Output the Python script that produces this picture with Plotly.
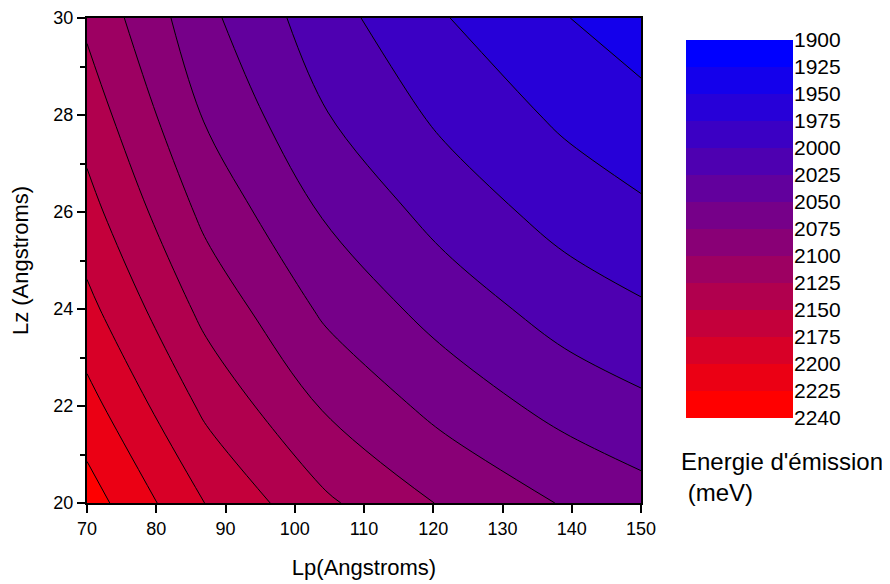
import plotly.graph_objects as go

# ---- data ----
LP = [70, 87.25, 104.5, 121.75, 139, 150]          # Lp (Angstroms)
LZ = [20, 22, 24, 26, 28, 30]                      # Lz (Angstroms)
E = [                                              # emission energy (meV), rows = LZ, cols = LP
    [2237, 2174, 2129, 2097, 2073, 2060],
    [2209, 2144, 2097, 2066, 2041, 2030],
    [2182, 2117, 2070, 2039, 2014, 2003],
    [2159, 2093, 2047, 2015, 1990, 1979],
    [2139, 2072, 2026, 1994, 1970, 1958],
    [2120, 2056, 2010, 1976, 1951, 1937],
]
LEVEL_START, LEVEL_END, LEVEL_STEP = 1925, 2225, 25
CB_EDGES = [2240, 2225, 2200, 2175, 2150, 2125, 2100, 2075, 2050,
            2025, 2000, 1975, 1950, 1925, 1900]     # colour-bar labels, bottom to top
X_TICKS = [70, 80, 90, 100, 110, 120, 130, 140, 150]
Y_TICKS = [20, 22, 24, 26, 28, 30]

RED = "rgb(255,0,0)"
BLUE = "rgb(0,0,255)"
FONT = "Liberation Sans, Arial, sans-serif"

fig = go.Figure()

fig.add_trace(go.Contour(
    x=LP, y=LZ, z=E,
    autocontour=False,
    contours=dict(start=LEVEL_START, end=LEVEL_END, size=LEVEL_STEP,
                  coloring="fill", showlines=True),
    line=dict(color="black", width=1),
    colorscale=[[0, BLUE], [1, RED]],
    showscale=False,
    hoverinfo="skip",
))

# custom colour bar: equal-height bands, labels on band boundaries
n_bands = len(CB_EDGES) - 1
fig.add_trace(go.Heatmap(
    x=[0], y=list(range(n_bands)),
    z=[[i] for i in range(n_bands)],
    zmin=0, zmax=n_bands - 1,
    colorscale=[[0, RED], [1, BLUE]],
    showscale=False, xaxis="x2", yaxis="y2", hoverinfo="skip",
))

W, H = 890, 584
OFF = 8                       # page body margin of the html page
ML, MT = 87 - OFF, 18 - OFF
PW, PH = 713, 485
MR, MB = W - ML - PW, H - MT - PH

def px_x(p):                  # page pixel -> paper fraction
    return (p - OFF - ML) / PW

def px_y(p):
    return (MT + PH - (p - OFF)) / PH

axis_common = dict(showgrid=False, zeroline=False, linecolor="black", linewidth=2,
                   mirror=True, ticks="outside", tickcolor="black", tickwidth=1.5,
                   ticklen=8, automargin=False,
                   tickfont=dict(family=FONT, size=18, color="black"))

fig.update_layout(
    width=W, height=H, autosize=False,
    margin=dict(l=ML, r=MR, t=MT, b=MB, pad=0),
    paper_bgcolor="white", plot_bgcolor="white",
    font=dict(family=FONT, color="black"),
    xaxis=dict(domain=[0, px_x(641)], range=[70, 150], tickvals=X_TICKS,
               title=dict(text="Lp(Angstroms)", font=dict(family=FONT, size=22), standoff=22),
               **axis_common),
    yaxis=dict(domain=[0, 1], range=[20, 30], tickvals=Y_TICKS,
               minor=dict(dtick=1, ticks="outside", ticklen=5, tickcolor="black", tickwidth=1.5),
               title=dict(text="Lz (Angstroms)", font=dict(family=FONT, size=22), standoff=19),
               **axis_common),
    xaxis2=dict(domain=[px_x(686), px_x(793)], anchor="y2", visible=False, range=[-0.5, 0.5]),
    yaxis2=dict(domain=[px_y(418), px_y(40)], anchor="x2", side="right",
                range=[-0.5, n_bands - 0.5], automargin=False,
                tickvals=[i - 0.5 for i in range(len(CB_EDGES))],
                ticktext=[str(v) for v in CB_EDGES],
                ticks="", showline=False, showgrid=False, zeroline=False,
                tickfont=dict(family=FONT, size=21, color="black")),
    annotations=[dict(
        text="Energie d'émission<br>\u00a0(meV)", xref="paper", yref="paper",
        x=px_x(679), y=px_y(446), xanchor="left", yanchor="top", align="left",
        showarrow=False, font=dict(family=FONT, size=24, color="black"),
    )],
)

fig.write_html("out.html")
